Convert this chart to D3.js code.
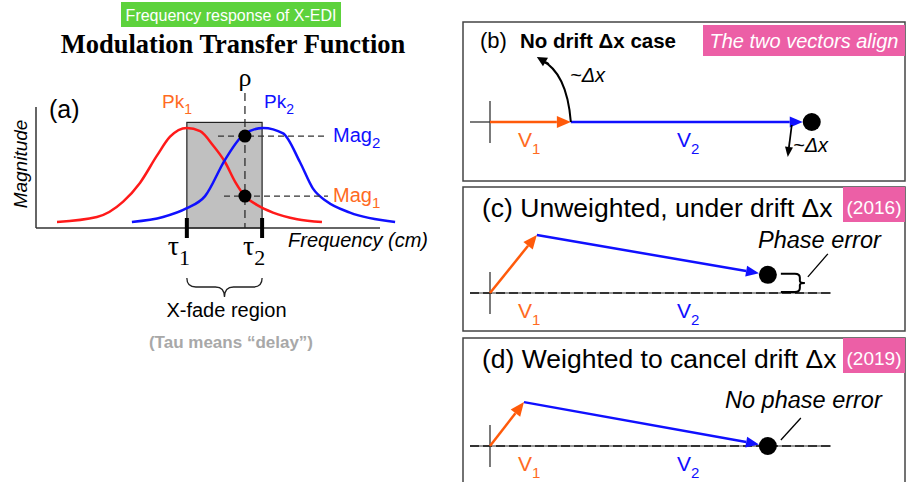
<!DOCTYPE html>
<html>
<head>
<meta charset="utf-8">
<script src="https://cdn.jsdelivr.net/npm/d3@7"></script>
<style>
  body { margin: 0; background: #fff; }
  svg { display: block; font-family: "Liberation Sans", Arial, sans-serif; }
</style>
</head>
<body>
<svg id="chart" width="907" height="482"></svg>
<script>
// panel (a): curves, [frequency, magnitude]
const redCurve = [[0.6, 0.055], [1.74, 0.10], [2.49, 0.24], [2.97, 0.41], [3.46, 0.66], [3.83, 0.83], [4.31, 0.91],
  [4.69, 0.88], [5.06, 0.75], [5.40, 0.60], [5.69, 0.42], [5.97, 0.29], [6.31, 0.21], [6.77, 0.14], [7.46, 0.08], [8.17, 0.055]];
const blueCurve = [[2.74, 0.055], [3.63, 0.10], [4.31, 0.18], [4.83, 0.29], [5.40, 0.62], [5.94, 0.85], [6.49, 0.91],
  [7.06, 0.86], [7.54, 0.60], [7.91, 0.36], [8.31, 0.24], [8.97, 0.14], [10.26, 0.055]];
const tauMarks = [4.31, 6.46];
const tauLabels = ["1", "2"];
const rhoFreq = 5.97;
const magLevels = [0.836, 0.29];
const magLabels = ["2", "1"];
const xfadeTop = 0.96;

// panels (b)-(d): phasor vectors in panel units
const panelLetters = ["(b)", "(c)", "(d)"];
const panelTitles = ["No drift \u0394x case", "Unweighted, under drift \u0394x", "Weighted to cancel drift \u0394x"];
const panelTags = ["The two vectors align", "(2016)", "(2019)"];
const v1Vectors = [[2.45, 0], [1.42, 1.76], [1.03, 1.33]];
const v2Vectors = [[7.30, 0], [7.00, -1.21], [7.39, -1.33]];

const RED = "#ff1a1a";
const BLUE = "#1010ff";
const ORANGE = "#ff5a0a";
const ORANGE_TXT = "#ff6a22";
const PINK = "#ec5fa6";
const GREEN = "#5dd23c";

const svg = d3.select("#chart");

drawPanelA();
drawPhasorPanels();

function subText(g, x, y, main, sub, opts) {
  const t = g.append("text")
    .attr("x", x).attr("y", y)
    .attr("fill", opts.color || "#000")
    .attr("font-size", opts.size)
    .attr("font-family", opts.family || null)
    .attr("font-style", opts.italic ? "italic" : null)
    .attr("text-anchor", opts.anchor || "start");
  t.append("tspan").text(main);
  t.append("tspan").attr("font-size", opts.subSize).attr("dy", opts.dy).text(sub);
  return t;
}

function drawPanelA() {
  const g = svg.append("g");
  const x = d3.scaleLinear().domain([0, 10]).range([36, 386]);
  const y = d3.scaleLinear().domain([0, 1]).range([228, 118]);

  g.append("rect")
    .attr("x", 121).attr("y", 2).attr("width", 220).attr("height", 25)
    .attr("fill", GREEN);
  g.append("text")
    .attr("x", 231).attr("y", 21).attr("text-anchor", "middle")
    .attr("fill", "#fff").attr("font-size", 16)
    .text("Frequency response of X-EDI");

  g.append("text")
    .attr("x", 233).attr("y", 53).attr("text-anchor", "middle")
    .attr("font-family", "'Liberation Serif', 'Times New Roman', serif")
    .attr("font-weight", "bold").attr("font-size", 26.5)
    .text("Modulation Transfer Function");

  // x-fade region
  g.append("rect")
    .attr("x", x(tauMarks[0])).attr("y", y(xfadeTop))
    .attr("width", x(tauMarks[1]) - x(tauMarks[0]))
    .attr("height", y(0) - y(xfadeTop))
    .attr("fill", "#c0c0c0").attr("stroke", "#222").attr("stroke-width", 1.2);

  const line = d3.line().x((d) => x(d[0])).y((d) => y(d[1])).curve(d3.curveMonotoneX);
  g.append("path").datum(redCurve).attr("d", line)
    .attr("fill", "none").attr("stroke", RED).attr("stroke-width", 2.5);
  g.append("path").datum(blueCurve).attr("d", line)
    .attr("fill", "none").attr("stroke", BLUE).attr("stroke-width", 2.5);

  // axes
  g.append("line").attr("x1", x(0)).attr("x2", x(0)).attr("y1", 107).attr("y2", y(0))
    .attr("stroke", "#333").attr("stroke-width", 1.5);
  g.append("line").attr("x1", x(0)).attr("x2", 380).attr("y1", y(0)).attr("y2", y(0))
    .attr("stroke", "#333").attr("stroke-width", 1.5);

  // rho line
  g.append("line").attr("x1", x(rhoFreq)).attr("x2", x(rhoFreq)).attr("y1", 93).attr("y2", y(0))
    .attr("stroke", "#222").attr("stroke-width", 1.2).attr("stroke-dasharray", "8,5");
  g.append("text").attr("x", x(rhoFreq)).attr("y", 86).attr("text-anchor", "middle")
    .attr("font-family", "'Liberation Serif', serif").attr("font-size", 26).text("\u03c1");

  // magnitude guides
  const magStart = [218, 224];
  magLevels.forEach((m, i) => {
    g.append("line").attr("x1", magStart[i]).attr("x2", 328).attr("y1", y(m)).attr("y2", y(m))
      .attr("stroke", "#333").attr("stroke-width", 1.2).attr("stroke-dasharray", "6,4");
    g.append("circle").attr("cx", x(rhoFreq)).attr("cy", y(m)).attr("r", 6.5).attr("fill", "#000");
    subText(g, 333, y(m) + 6, "Mag", magLabels[i], {
      size: 20, subSize: 15, dy: 6, color: i === 0 ? BLUE : ORANGE_TXT
    });
  });

  // tau ticks
  tauMarks.forEach((t, i) => {
    g.append("line").attr("x1", x(t)).attr("x2", x(t)).attr("y1", 218).attr("y2", 238)
      .attr("stroke", "#000").attr("stroke-width", 4);
    subText(g, x(t) - 19, 255, "\u03c4", tauLabels[i], {
      size: 28, subSize: 22, dy: 10, family: "'Liberation Serif', serif"
    });
  });

  subText(g, 162, 108, "Pk", "1", { size: 19, subSize: 14, dy: 6, color: ORANGE_TXT });
  subText(g, 264, 108, "Pk", "2", { size: 19, subSize: 14, dy: 6, color: BLUE });

  g.append("text").attr("x", 49).attr("y", 118).attr("font-size", 25).text("(a)");
  g.append("text").attr("transform", "translate(27,164) rotate(-90)")
    .attr("text-anchor", "middle").attr("font-size", 19).attr("font-style", "italic")
    .text("Magnitude");
  g.append("text").attr("x", 288).attr("y", 247).attr("font-size", 20).attr("font-style", "italic")
    .text("Frequency (cm)");

  // brace under the x-fade region
  const bx0 = x(tauMarks[0]), bx1 = x(tauMarks[1]), bm = (bx0 + bx1) / 2;
  const brace = d3.path();
  brace.moveTo(bx0, 278);
  brace.quadraticCurveTo(bx0, 287, bx0 + 9, 287);
  brace.lineTo(bm - 9, 287);
  brace.quadraticCurveTo(bm, 287, bm, 297);
  brace.quadraticCurveTo(bm, 287, bm + 9, 287);
  brace.lineTo(bx1 - 9, 287);
  brace.quadraticCurveTo(bx1, 287, bx1, 278);
  g.append("path").attr("d", brace.toString()).attr("fill", "none")
    .attr("stroke", "#222").attr("stroke-width", 1.3);
  g.append("text").attr("x", bm + 2).attr("y", 317).attr("text-anchor", "middle")
    .attr("font-size", 20).text("X-fade region");
  g.append("text").attr("x", 231).attr("y", 348).attr("text-anchor", "middle")
    .attr("font-size", 17).attr("font-weight", "bold").attr("fill", "#a8a8a8")
    .text("(Tau means \u201cdelay\u201d)");
}

function arrow(g, x1, y1, x2, y2, color, width, headLen, headHalf) {
  const ang = Math.atan2(y2 - y1, x2 - x1);
  const bx = x2 - headLen * Math.cos(ang), by = y2 - headLen * Math.sin(ang);
  g.append("line").attr("x1", x1).attr("y1", y1).attr("x2", bx).attr("y2", by)
    .attr("stroke", color).attr("stroke-width", width);
  const px = -Math.sin(ang) * headHalf, py = Math.cos(ang) * headHalf;
  g.append("path")
    .attr("d", `M${x2},${y2}L${bx + px},${by + py}L${bx - px},${by - py}Z`)
    .attr("fill", color);
}

function drawPhasorPanels() {
  const boxTop = [22, 187, 338];
  const boxBottom = [181, 331, 492];
  const axisY = [122, 293, 446];
  const originX = 490;
  const u = d3.scaleLinear().domain([0, 1]).range([0, 33]);
  const dotR = 9;

  panelLetters.forEach((letter, i) => {
    const g = svg.append("g");
    g.append("rect").attr("x", 463).attr("y", boxTop[i])
      .attr("width", 442).attr("height", boxBottom[i] - boxTop[i])
      .attr("fill", "none").attr("stroke", "#444").attr("stroke-width", 1.5);

    const px = (v) => originX + u(v[0]);
    const py = (v) => axisY[i] - u(v[1]);

    // tag
    if (i === 0) {
      g.append("rect").attr("x", 703).attr("y", 25).attr("width", 202).attr("height", 31).attr("fill", PINK);
      g.append("text").attr("x", 804).attr("y", 48).attr("text-anchor", "middle")
        .attr("fill", "#fff").attr("font-size", 20).attr("font-style", "italic").text(panelTags[i]);
      g.append("text").attr("x", 480).attr("y", 48).attr("font-size", 22).text(letter);
      g.append("text").attr("x", 520).attr("y", 48).attr("font-size", 20.5).attr("font-weight", "bold")
        .text(panelTitles[i]);
    } else {
      g.append("rect").attr("x", 843).attr("y", boxTop[i]).attr("width", 62).attr("height", 35).attr("fill", PINK);
      g.append("text").attr("x", 874).attr("y", boxTop[i] + 27).attr("text-anchor", "middle")
        .attr("fill", "#fff").attr("font-size", 19).text(panelTags[i]);
      g.append("text").attr("x", 482).attr("y", boxTop[i] + 30).attr("font-size", 26.5)
        .text(letter + " " + panelTitles[i]);
    }

    // crosshair
    if (i === 0) {
      g.append("line").attr("x1", originX - 20).attr("x2", originX).attr("y1", axisY[i]).attr("y2", axisY[i])
        .attr("stroke", "#333").attr("stroke-width", 1.3);
    } else {
      g.append("line").attr("x1", originX - 20).attr("x2", 831).attr("y1", axisY[i]).attr("y2", axisY[i])
        .attr("stroke", "#999").attr("stroke-width", 2);
      g.append("line").attr("x1", originX - 20).attr("x2", 831).attr("y1", axisY[i]).attr("y2", axisY[i])
        .attr("stroke", "#333").attr("stroke-width", 2).attr("stroke-dasharray", "9,4");
    }
    g.append("line").attr("x1", originX).attr("x2", originX)
      .attr("y1", axisY[i] - 21).attr("y2", axisY[i] + 21)
      .attr("stroke", "#333").attr("stroke-width", 1.3);

    const v1 = v1Vectors[i];
    const sum = [v1[0] + v2Vectors[i][0], v1[1] + v2Vectors[i][1]];
    arrow(g, px([0, 0]), py([0, 0]), px(v1), py(v1), ORANGE, 2.5, 14, 6);
    const dx = px(sum) - px(v1), dy = py(sum) - py(v1);
    const len = Math.hypot(dx, dy);
    arrow(g, px(v1), py(v1), px(sum) - dotR * dx / len, py(sum) - dotR * dy / len, BLUE, 2.5, 13, 5.5);
    g.append("circle").attr("cx", px(sum)).attr("cy", py(sum)).attr("r", dotR).attr("fill", "#000");

    subText(g, 518, axisY[i] + 25, "V", "1", { size: 21, subSize: 15, dy: 7, color: ORANGE_TXT });
    subText(g, 677, axisY[i] + 25, "V", "2", { size: 21, subSize: 15, dy: 7, color: BLUE });

    const dotX = px(sum), dotY = py(sum);
    if (i === 0) {
      // rotation hint at V1 tip
      const c = d3.path();
      const sx = px(v1), sy = py(v1);
      c.moveTo(sx, sy);
      c.quadraticCurveTo(sx - 4, sy - 50, sx - 30, sy - 62);
      g.append("path").attr("d", c.toString()).attr("fill", "none")
        .attr("stroke", "#000").attr("stroke-width", 2);
      arrow(g, sx - 22, sy - 58, sx - 34, sy - 65, "#000", 2, 10, 5);
      g.append("text").attr("x", 570).attr("y", 82).attr("font-size", 20).attr("font-style", "italic")
        .text("~\u0394x");
      arrow(g, dotX - 20, dotY + 3, dotX - 24, dotY + 35, "#000", 1.8, 10, 4);
      g.append("text").attr("x", 793).attr("y", 152).attr("font-size", 20).attr("font-style", "italic")
        .text("~\u0394x");
    } else if (i === 1) {
      const x0 = dotX + 13, xm = dotX + 35, yt = dotY - 1, yb = axisY[i] - 1, ym = (yt + yb) / 2;
      const b = d3.path();
      b.moveTo(x0, yt);
      b.lineTo(xm - 8, yt);
      b.quadraticCurveTo(xm - 3, yt, xm - 3, yt + 4);
      b.lineTo(xm - 3, ym - 2);
      b.quadraticCurveTo(xm - 3, ym, xm + 2, ym);
      b.quadraticCurveTo(xm - 3, ym, xm - 3, ym + 2);
      b.lineTo(xm - 3, yb - 4);
      b.quadraticCurveTo(xm - 3, yb, xm - 8, yb);
      b.lineTo(x0, yb);
      g.append("path").attr("d", b.toString()).attr("fill", "none")
        .attr("stroke", "#000").attr("stroke-width", 2);
      g.append("line").attr("x1", dotX + 40).attr("y1", dotY + 2).attr("x2", dotX + 60).attr("y2", dotY - 21)
        .attr("stroke", "#000").attr("stroke-width", 1.3);
      g.append("text").attr("x", 758).attr("y", 248).attr("font-size", 23.5).attr("font-style", "italic")
        .text("Phase error");
    } else {
      g.append("line").attr("x1", dotX + 13).attr("y1", dotY - 6).attr("x2", dotX + 33).attr("y2", dotY - 28)
        .attr("stroke", "#000").attr("stroke-width", 1.3);
      g.append("text").attr("x", 725).attr("y", 408).attr("font-size", 23.5).attr("font-style", "italic")
        .text("No phase error");
    }
  });
}
</script>
</body>
</html>
